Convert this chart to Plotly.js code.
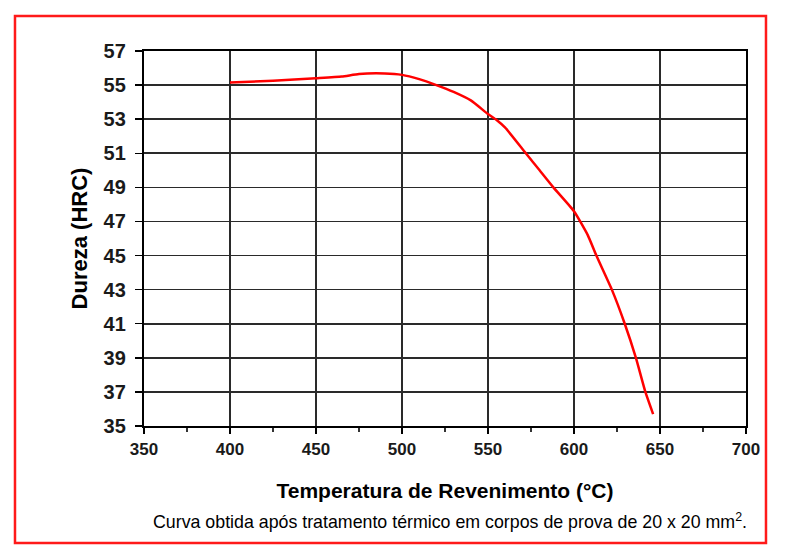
<!DOCTYPE html>
<html>
<head>
<meta charset="utf-8">
<script src="https://cdn.plot.ly/plotly-3.0.1.min.js"></script>
<style>
  html, body { margin: 0; padding: 0; background: #ffffff; }
  #chart { width: 785px; height: 558px; }
</style>
</head>
<body>
<div id="chart"></div>
<script>
// Tempering temperature (°C)
var temperatura = [400, 425, 450, 465, 475, 490, 500, 510, 520, 530, 540, 550, 555, 560, 572, 580, 588, 600, 608, 613, 622, 629.5, 636, 641.5, 646];
// Hardness (HRC)
var dureza = [55.15, 55.25, 55.4, 55.5, 55.65, 55.68, 55.6, 55.35, 55.0, 54.6, 54.1, 53.3, 52.95, 52.5, 51.0, 50.0, 49.0, 47.6, 46.2, 45.0, 43.0, 41.0, 39.0, 37.0, 35.7];

var xTicks = [350, 400, 450, 500, 550, 600, 650, 700];
var yTicks = [35, 37, 39, 41, 43, 45, 47, 49, 51, 53, 55, 57];

var xTitle = 'Temperatura de Revenimento (°C)';
var yTitle = 'Dureza (HRC)';
var caption = 'Curva obtida após tratamento térmico em corpos de prova de 20 x 20 mm<sup>2</sup>.';

var trace = {
  x: temperatura,
  y: dureza,
  type: 'scatter',
  mode: 'lines',
  line: { color: '#ff0000', width: 2.5, shape: 'spline', smoothing: 0.5 },
  hoverinfo: 'x+y',
  showlegend: false
};

var font = 'Liberation Sans, Arial, sans-serif';

var layout = {
  width: 785,
  height: 558,
  margin: { l: 144, r: 39, t: 51, b: 132 },
  paper_bgcolor: '#ffffff',
  plot_bgcolor: '#ffffff',
  showlegend: false,
  font: { family: font, color: '#000000' },
  xaxis: {
    range: [350, 700],
    tickvals: xTicks,
    ticktext: xTicks.map(String),
    showgrid: true,
    gridcolor: '#2a2a2a',
    gridwidth: 1.6,
    zeroline: false,
    showline: true,
    linecolor: '#000000',
    linewidth: 2.2,
    mirror: true,
    ticks: 'outside',
    ticklen: 6,
    tickwidth: 1.5,
    tickcolor: '#000000',
    minor: { dtick: 25, tick0: 350, ticks: 'outside', ticklen: 4, tickwidth: 1.2, tickcolor: '#333333', showgrid: false },
    tickfont: { family: font, size: 17, color: '#1a1a1a', weight: 'bold' },
    title: { text: '<b>' + xTitle + '</b>', font: { family: font, size: 21, color: '#000000' }, standoff: 26 },
    automargin: false,
    fixedrange: true
  },
  yaxis: {
    range: [35, 57],
    tickvals: yTicks,
    ticktext: yTicks.map(String),
    showgrid: true,
    gridcolor: '#2a2a2a',
    gridwidth: 1.6,
    zeroline: false,
    showline: true,
    linecolor: '#000000',
    linewidth: 2.2,
    mirror: true,
    ticks: 'outside',
    ticklen: 7,
    tickwidth: 1.5,
    tickcolor: '#000000',
    ticklabelstandoff: 5,
    tickfont: { family: font, size: 20, color: '#1a1a1a', weight: 'bold' },
    title: { text: '<b>' + yTitle + '</b>', font: { family: font, size: 22, color: '#000000' }, standoff: 10 },
    automargin: false,
    fixedrange: true
  },
  annotations: [{
    xref: 'paper', yref: 'paper',
    x: 0.508, y: -0.253,
    xanchor: 'center', yanchor: 'middle',
    text: caption,
    showarrow: false,
    font: { family: font, size: 17.8, color: '#000000' }
  }],
  shapes: [{
    type: 'rect',
    xref: 'paper', yref: 'paper',
    x0: -0.2143, x1: 1.0332,
    y0: -0.312, y1: 1.0933,
    line: { color: '#ff1a1a', width: 2.5 },
    fillcolor: 'rgba(0,0,0,0)',
    layer: 'above'
  }]
};

Plotly.newPlot('chart', [trace], layout, { displayModeBar: false, staticPlot: true });
</script>
</body>
</html>
